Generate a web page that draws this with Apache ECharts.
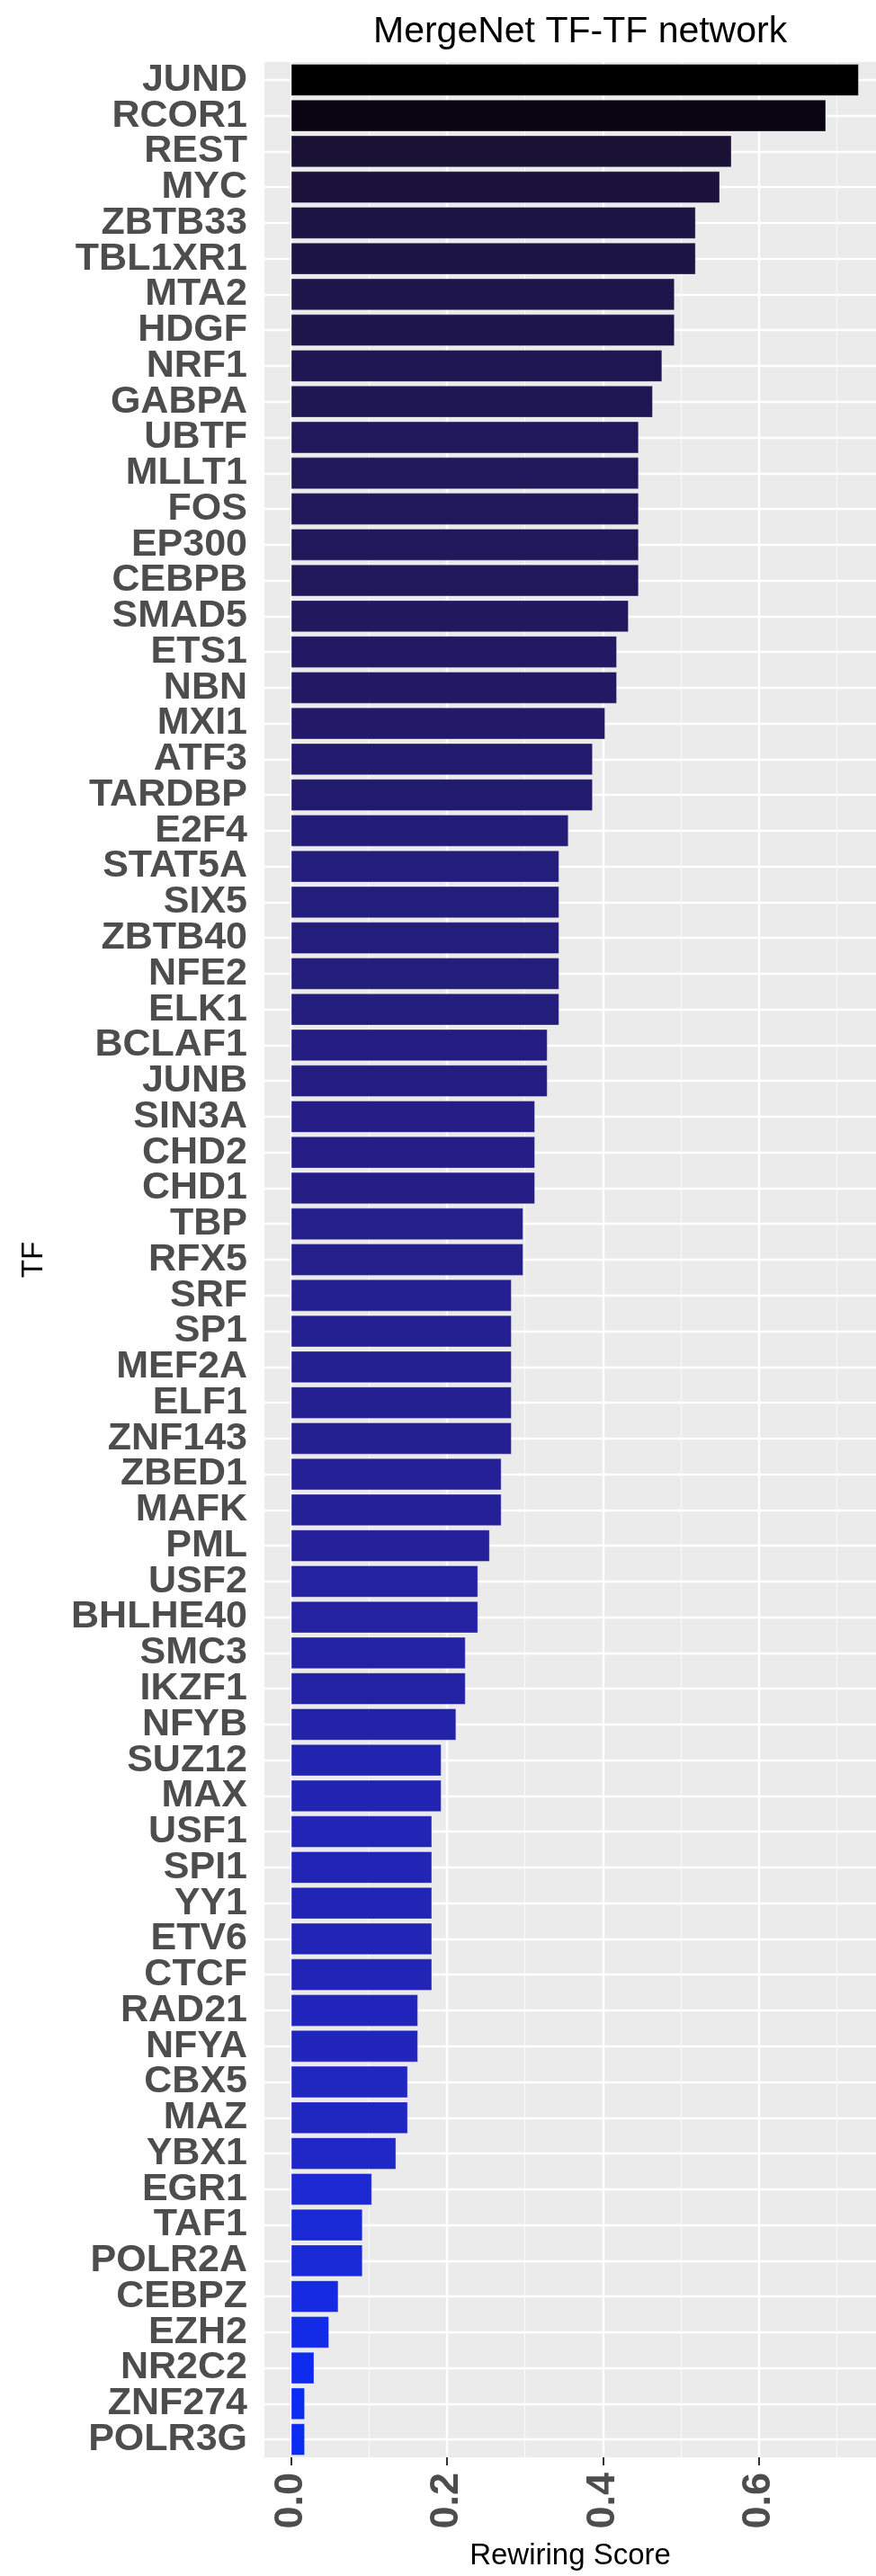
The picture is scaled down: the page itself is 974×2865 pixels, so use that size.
<!DOCTYPE html>
<html>
<head>
<meta charset="utf-8">
<script src="https://cdn.jsdelivr.net/npm/echarts@6/dist/echarts.min.js"></script>
<style>
  html, body { margin: 0; padding: 0; background: #fff; }
  #chart { width: 974px; height: 2865px; }
</style>
</head>
<body>
<div id="chart"></div>
<script>
// TF names, top to bottom
var tfNames = ['JUND', 'RCOR1', 'REST', 'MYC', 'ZBTB33', 'TBL1XR1', 'MTA2', 'HDGF', 'NRF1', 'GABPA',
  'UBTF', 'MLLT1', 'FOS', 'EP300', 'CEBPB', 'SMAD5', 'ETS1', 'NBN', 'MXI1', 'ATF3',
  'TARDBP', 'E2F4', 'STAT5A', 'SIX5', 'ZBTB40', 'NFE2', 'ELK1', 'BCLAF1', 'JUNB', 'SIN3A',
  'CHD2', 'CHD1', 'TBP', 'RFX5', 'SRF', 'SP1', 'MEF2A', 'ELF1', 'ZNF143', 'ZBED1',
  'MAFK', 'PML', 'USF2', 'BHLHE40', 'SMC3', 'IKZF1', 'NFYB', 'SUZ12', 'MAX', 'USF1',
  'SPI1', 'YY1', 'ETV6', 'CTCF', 'RAD21', 'NFYA', 'CBX5', 'MAZ', 'YBX1', 'EGR1',
  'TAF1', 'POLR2A', 'CEBPZ', 'EZH2', 'NR2C2', 'ZNF274', 'POLR3G'];

// rewiring scores, same order
var rewiringScore = [0.728, 0.686, 0.565, 0.550, 0.519, 0.519, 0.492, 0.492, 0.476, 0.464,
  0.446, 0.446, 0.446, 0.446, 0.446, 0.433, 0.418, 0.418, 0.403, 0.387,
  0.387, 0.356, 0.344, 0.344, 0.344, 0.344, 0.344, 0.329, 0.329, 0.313,
  0.313, 0.313, 0.298, 0.298, 0.283, 0.283, 0.283, 0.283, 0.283, 0.270,
  0.270, 0.255, 0.240, 0.240, 0.224, 0.224, 0.212, 0.193, 0.193, 0.181,
  0.181, 0.181, 0.181, 0.181, 0.163, 0.163, 0.150, 0.150, 0.135, 0.104,
  0.092, 0.092, 0.061, 0.049, 0.030, 0.018, 0.018];

var majorTicks = [0, 0.2, 0.4, 0.6];
var minorTicks = [0.1, 0.3, 0.5, 0.7];

// fill gradient low = blue, high = black, mixed in Lab like ggplot does
function toLinear(c) { c = c / 255; return c <= 0.04045 ? c / 12.92 : Math.pow((c + 0.055) / 1.055, 2.4); }
function toGamma(c) { c = c <= 0.0031308 ? 12.92 * c : 1.055 * Math.pow(c, 1 / 2.4) - 0.055; return Math.round(Math.max(0, Math.min(1, c)) * 255); }
function hexToLab(hex) {
  var r = toLinear(parseInt(hex.substr(1, 2), 16)),
      g = toLinear(parseInt(hex.substr(3, 2), 16)),
      b = toLinear(parseInt(hex.substr(5, 2), 16));
  var x = (0.4124 * r + 0.3576 * g + 0.1805 * b) / 0.95047;
  var y = 0.2126 * r + 0.7152 * g + 0.0722 * b;
  var z = (0.0193 * r + 0.1192 * g + 0.9505 * b) / 1.08883;
  function f(t) { return t > 0.008856 ? Math.cbrt(t) : (903.3 * t + 16) / 116; }
  var fx = f(x), fy = f(y), fz = f(z);
  return [116 * fy - 16, 500 * (fx - fy), 200 * (fy - fz)];
}
function labToHex(lab) {
  var fy = (lab[0] + 16) / 116, fx = fy + lab[1] / 500, fz = fy - lab[2] / 200;
  function inv(t) { return t * t * t > 0.008856 ? t * t * t : (116 * t - 16) / 903.3; }
  var x = inv(fx) * 0.95047, y = lab[0] > 8 ? fy * fy * fy : lab[0] / 903.3, z = inv(fz) * 1.08883;
  var r = 3.2406 * x - 1.5372 * y - 0.4986 * z;
  var g = -0.9689 * x + 1.8758 * y + 0.0415 * z;
  var b = 0.0557 * x - 0.2040 * y + 1.0570 * z;
  return 'rgb(' + toGamma(r) + ',' + toGamma(g) + ',' + toGamma(b) + ')';
}
var lowLab = hexToLab('#0A2CF2'), highLab = hexToLab('#000000');
var vMin = Math.min.apply(null, rewiringScore), vMax = Math.max.apply(null, rewiringScore);
function fillFor(v) {
  var t = (v - vMin) / (vMax - vMin);
  return labToHex([0, 1, 2].map(function (k) { return lowLab[k] + (highLab[k] - lowLab[k]) * t; }));
}

var font = '"Liberation Sans", Arial, Helvetica, sans-serif';
var chart = echarts.init(document.getElementById('chart'));
chart.setOption({
  animation: false,
  backgroundColor: '#ffffff',
  title: {
    text: 'MergeNet TF-TF network',
    left: 410,
    top: 10,
    textStyle: { fontFamily: font, fontSize: 41, fontWeight: 'normal', color: '#000' }
  },
  grid: {
    left: 294, right: 0, top: 69, bottom: 132,
    show: true, backgroundColor: '#EBEBEB', borderWidth: 0
  },
  xAxis: [{
    type: 'value',
    min: -0.034, max: 0.75,
    name: 'Rewiring Score',
    nameLocation: 'middle',
    nameGap: 93,
    nameTextStyle: { fontFamily: font, fontSize: 33, color: '#000' },
    axisLine: { show: false },
    axisTick: { show: true, length: 9, customValues: majorTicks, lineStyle: { color: '#333', width: 2 } },
    axisLabel: {
      customValues: majorTicks, rotate: 90, margin: 17,
      fontFamily: font, fontSize: 45, fontWeight: 'bold', color: '#4D4D4D',
      padding: [36, 0, 0, 0],
      formatter: function (v) { return v.toFixed(1); }
    },
    splitLine: { show: true, lineStyle: { color: '#ffffff', width: 2.4 } }
  }, {
    type: 'value',
    min: -0.034, max: 0.75,
    position: 'bottom',
    axisLine: { show: false },
    axisTick: { show: false, customValues: minorTicks },
    axisLabel: { show: false, customValues: minorTicks },
    splitLine: { show: true, lineStyle: { color: '#F7F7F7', width: 1.2 } }
  }],
  yAxis: {
    type: 'category',
    data: tfNames,
    inverse: true,
    name: 'TF',
    nameLocation: 'middle',
    nameGap: 240,
    nameTextStyle: { fontFamily: font, fontSize: 33, color: '#000' },
    axisLine: { show: false },
    axisTick: { show: true, alignWithLabel: true, length: 9, lineStyle: { color: '#333', width: 2 } },
    axisLabel: {
      interval: 0, margin: 19,
      fontFamily: font, fontSize: 43, fontWeight: 'bold', color: '#4D4D4D'
    },
    splitLine: { show: false }
  },
  series: [{
    type: 'bar',
    xAxisIndex: 0,
    barWidth: '90%',
    z: 2,
    data: rewiringScore.map(function (v) {
      return { value: v, itemStyle: { color: fillFor(v) } };
    }),
    itemStyle: { borderColor: 'rgba(255,255,255,0.35)', borderWidth: 1 },
    markLine: {
      silent: true,
      z: 1,
      symbol: ['none', 'none'],
      label: { show: false },
      lineStyle: { color: '#ffffff', width: 2.4, type: 'solid' },
      data: tfNames.map(function (n) { return { yAxis: n }; })
    }
  }]
});
</script>
</body>
</html>
